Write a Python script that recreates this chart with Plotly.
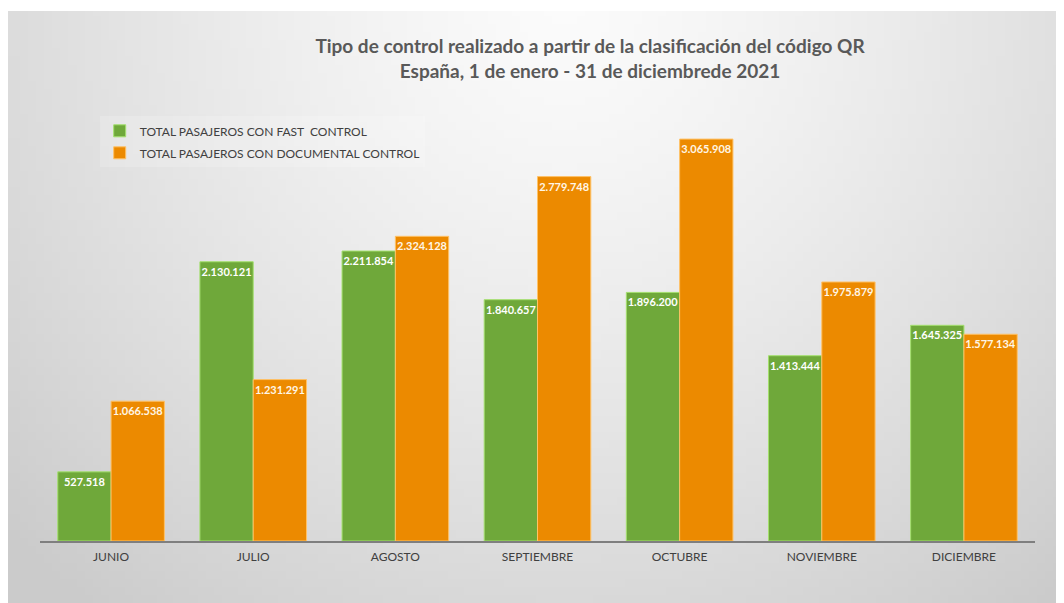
import base64, struct, zlib, math
import plotly.graph_objects as go

months = ["JUNIO", "JULIO", "AGOSTO", "SEPTIEMBRE", "OCTUBRE", "NOVIEMBRE", "DICIEMBRE"]
fast_control = [527518, 2130121, 2211854, 1840657, 1896200, 1413444, 1645325]
documental_control = [1066538, 1231291, 2324128, 2779748, 3065908, 1975879, 1577134]
series_names = ["TOTAL PASAJEROS CON FAST  CONTROL", "TOTAL PASAJEROS CON DOCUMENTAL CONTROL"]
title_lines = ["Tipo de control realizado a partir de la clasificación del código QR",
               "España, 1 de enero - 31 de diciembrede 2021"]


def make_png(w, h, fn):
    raw = bytearray()
    for j in range(h):
        raw.append(0)
        for i in range(w):
            v = fn(i, j)
            raw += bytes((v, v, v))
    def chunk(tag, data):
        c = struct.pack(">I", len(data)) + tag + data
        return c + struct.pack(">I", zlib.crc32(tag + data) & 0xffffffff)
    png = b"\x89PNG\r\n\x1a\n"
    png += chunk(b"IHDR", struct.pack(">IIBBBBB", w, h, 8, 2, 0, 0, 0))
    png += chunk(b"IDAT", zlib.compress(bytes(raw), 9))
    png += chunk(b"IEND", b"")
    return "data:image/png;base64," + base64.b64encode(png).decode()


W, H = 132, 74
def grad(i, j):
    x = i / (W - 1) * 1056
    y = j / (H - 1) * 592
    d = math.hypot(x - 552, y + 10)
    t = min(1.0, d / 767)
    return int(round(251 - 48 * t ** 1.3))

bg_img = make_png(W, H, grad)

fig = go.Figure()
fig.add_trace(go.Bar(
    x=months, y=fast_control, name=series_names[0], legendgroup="a",
    marker=dict(color="#6fa83a", line=dict(color="#a4e06e", width=1)),
    texttemplate="%{y:,.0f}", textposition="inside", insidetextanchor="end",
    textangle=0, constraintext="none",
    textfont=dict(family="Lato", size=11, color="white", weight="bold"),
))
fig.add_trace(go.Bar(
    x=months, y=documental_control, name=series_names[1], legendgroup="b",
    marker=dict(color="#ec8a00", line=dict(color="#ffc266", width=1)),
    texttemplate="%{y:,.0f}", textposition="inside", insidetextanchor="end",
    textangle=0, constraintext="none",
    textfont=dict(family="Lato", size=11, color="#fff6e6", weight="bold"),
))

fig.update_layout(
    width=1064, height=603,
    margin=dict(l=32, r=37, t=92, b=70),
    paper_bgcolor="white",
    plot_bgcolor="rgba(0,0,0,0)",
    separators=",.",
    barmode="group", bargap=0.25, bargroupgap=0,
    title=dict(
        text="<br>".join(title_lines),
        x=0.547, xanchor="center", y=0.925, yanchor="middle",
        font=dict(family="Lato", size=19, color="#595959", weight="bold"),
    ),
    legend=dict(
        x=0.06, xanchor="left", y=0.963, yanchor="top",
        bgcolor="rgba(255,255,255,0.18)",
        font=dict(family="Lato", size=12, color="#404040"),
        tracegroupgap=3,
    ),
    xaxis=dict(
        showline=True, linecolor="#7f7f7f", linewidth=2,
        ticks="", showgrid=False, ticklabelstandoff=4,
        tickfont=dict(family="Lato", size=12, color="#404040"),
    ),
    yaxis=dict(
        range=[0, 3364000], showticklabels=False, showgrid=False,
        zeroline=False, showline=False,
    ),
    images=[dict(
        source=bg_img, xref="paper", yref="paper",
        x=-0.0322, y=1.2018, sizex=1.07, sizey=1.37,
        xanchor="left", yanchor="top", sizing="stretch", layer="below",
    )],
)

fig.write_html("out.html")
